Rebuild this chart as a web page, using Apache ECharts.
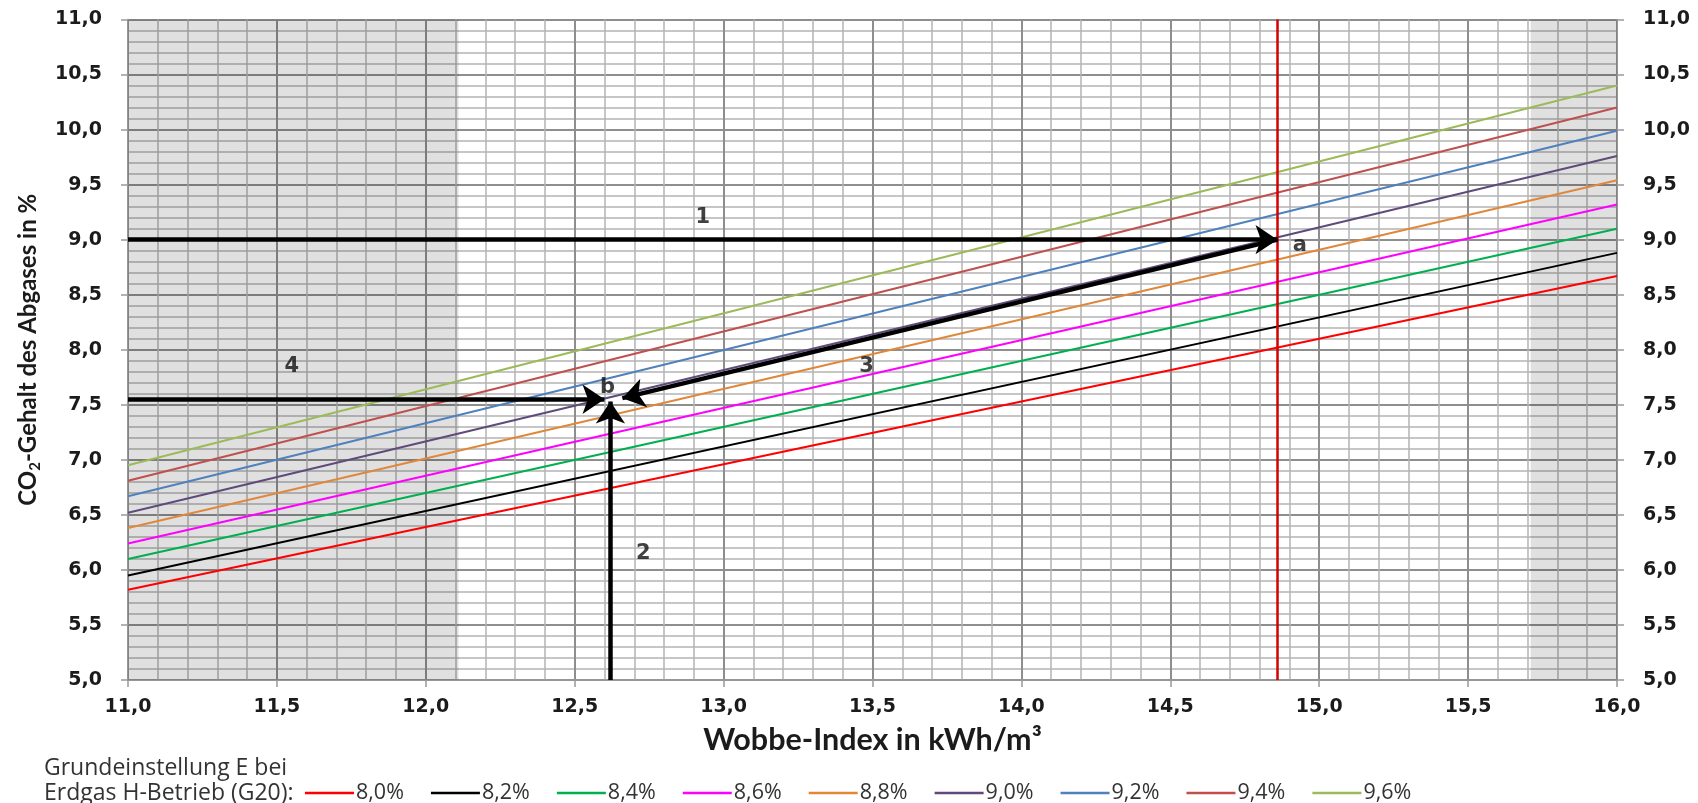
<!DOCTYPE html>
<html>
<head>
<meta charset="utf-8">
<script src="https://cdn.jsdelivr.net/npm/echarts@6/dist/echarts.min.js"></script>
<style>
  html, body { margin: 0; padding: 0; background: #fff; }
  #chart { width: 1698px; height: 803px; }
</style>
</head>
<body>
<div id="chart"></div>
<script>
// ---- data ----
const wobbeRange = [11.0, 16.0];                       // x of both line ends
const settingNames = ['8,0%', '8,2%', '8,4%', '8,6%', '8,8%', '9,0%', '9,2%', '9,4%', '9,6%'];
const co2AtStart = [5.82, 5.95, 6.10, 6.24, 6.38, 6.52, 6.67, 6.81, 6.95];   // CO2 at W = 11,0
const co2AtEnd   = [8.67, 8.88, 9.10, 9.32, 9.54, 9.76, 9.99, 10.20, 10.40]; // CO2 at W = 16,0
const shadedRanges = [[11.0, 12.11], [15.71, 16.0]];
const markerWobbe = 14.86;
const markerRange = [5.0, 11.0];
const arrowStarts = [[11.0, 9.0], [12.62, 5.0], [14.86, 9.0], [11.0, 7.55]];
const arrowEnds   = [[14.86, 9.0], [12.62, 7.53], [12.66, 7.56], [12.60, 7.55]];
const annotationTexts = ['1', '2', '3', '4', 'a', 'b'];
const annotationPoints = [[12.93, 9.20], [12.73, 6.15], [13.48, 7.85], [11.55, 7.85], [14.935, 8.95], [12.61, 7.66]];
const xTickRange = [11.0, 16.0], xTickStep = 0.5;
const yTickRange = [5.0, 11.0], yTickStep = 0.5;

// ---- styles ----
const lineColors = ['#ff0000', '#000000', '#00b050', '#ff00ff', '#e0883a', '#604a7b', '#4f81bd', '#c0504d', '#9bbb59'];
const fmt = v => v.toFixed(1).replace('.', ',');
const tickFont = { fontFamily: 'DejaVu Sans', fontWeight: 'bold', fontSize: 19, color: '#1b1b1b' };

const series = [];
series.push({
  name: 'shade', type: 'line', data: [], z: 1, silent: true,
  markArea: {
    silent: true,
    itemStyle: { color: 'rgba(0,0,0,0.12)' },
    data: shadedRanges.map(r => [{ xAxis: r[0] }, { xAxis: r[1] }])
  }
});
settingNames.forEach((n, i) => {
  series.push({
    name: n, type: 'line', z: 2, symbol: 'none', showSymbol: false,
    lineStyle: { color: lineColors[i], width: 2 },
    itemStyle: { color: lineColors[i] },
    data: [[wobbeRange[0], co2AtStart[i]], [wobbeRange[1], co2AtEnd[i]]]
  });
});
series.push({
  name: 'marker', type: 'line', z: 3, symbol: 'none',
  lineStyle: { color: '#d40000', width: 2.5 },
  data: markerRange.map(y => [markerWobbe, y])
});
series.push({
  name: 'arrows', type: 'lines', coordinateSystem: 'cartesian2d', z: 4,
  symbol: ['none', 'arrow'], symbolSize: 22,
  lineStyle: { color: '#000', width: 4.5, opacity: 1, curveness: 0 },
  data: arrowStarts.map((s, i) => ({ coords: [s, arrowEnds[i]] }))
});
series.push({
  name: 'labels', type: 'scatter', z: 5, symbolSize: 0,
  data: annotationPoints.map((p, i) => ({ value: p, name: annotationTexts[i] })),
  label: {
    show: true, position: 'inside', formatter: p => p.name,
    fontFamily: 'DejaVu Sans', fontWeight: 'bold', fontSize: 21, color: '#111'
  }
});

const yAxisBase = {
  type: 'value', min: yTickRange[0], max: yTickRange[1], interval: yTickStep,
  axisLine: { show: true, lineStyle: { color: '#999', width: 1.5 } },
  axisTick: { show: true, length: 7, lineStyle: { color: '#999', width: 1.5 } },
  axisLabel: Object.assign({ formatter: fmt, margin: 26 }, tickFont),
  minorTick: { show: false, splitNumber: 5 }
};

const option = {
  animation: false,
  backgroundColor: '#fff',
  title: {
    text: 'Grundeinstellung E bei\nErdgas H-Betrieb (G20):',
    left: 44, top: 756, padding: 0,
    textStyle: { fontFamily: 'Open Sans', fontWeight: 'normal', fontSize: 23, lineHeight: 25, color: '#333' }
  },
  legend: {
    data: settingNames, left: 305, top: 781, padding: 0,
    icon: 'rect', itemWidth: 49, itemHeight: 2.5, itemGap: 27,
    textStyle: { fontFamily: 'Open Sans', fontSize: 21.5, lineHeight: 24, color: '#333', padding: [0, 0, 0, -3] }
  },
  grid: { left: 128, right: 81, top: 19.5, bottom: 123, containLabel: false },
  xAxis: {
    type: 'value', min: xTickRange[0], max: xTickRange[1], interval: xTickStep,
    name: 'Wobbe-Index in kWh/m³', nameLocation: 'middle', nameGap: 45,
    nameTextStyle: { fontFamily: 'Lato', fontWeight: 'bold', fontSize: 30.5, color: '#1b1b1b' },
    axisLine: { show: true, lineStyle: { color: '#999', width: 1.5 } },
    axisTick: { show: true, length: 7, lineStyle: { color: '#999', width: 1.5 } },
    axisLabel: Object.assign({ formatter: fmt, margin: 18 }, tickFont),
    splitLine: { show: true, lineStyle: { color: '#8e8e8e', width: 2 } },
    minorTick: { show: false, splitNumber: 5 },
    minorSplitLine: { show: true, lineStyle: { color: '#b4b4b4', width: 1.5 } }
  },
  yAxis: [
    Object.assign({}, yAxisBase, {
      position: 'left',
      name: '{a|CO}{s|2}{a|-Gehalt des Abgases in %}',
      nameLocation: 'middle', nameRotate: 90, nameGap: 85,
      nameTextStyle: {
        rich: {
          a: { fontFamily: 'Lato', fontWeight: 'bold', fontSize: 24, color: '#1b1b1b', lineHeight: 30 },
          s: { fontFamily: 'Lato', fontWeight: 'bold', fontSize: 15, color: '#1b1b1b', lineHeight: 14, verticalAlign: 'bottom' }
        }
      },
      splitLine: { show: true, lineStyle: { color: '#8e8e8e', width: 2 } },
      minorSplitLine: { show: true, lineStyle: { color: '#b4b4b4', width: 1.5 } }
    }),
    Object.assign({}, yAxisBase, {
      position: 'right',
      splitLine: { show: false }
    })
  ],
  series: series
};

const chart = echarts.init(document.getElementById('chart'), null, { renderer: 'canvas' });
chart.setOption(option);
</script>
</body>
</html>
